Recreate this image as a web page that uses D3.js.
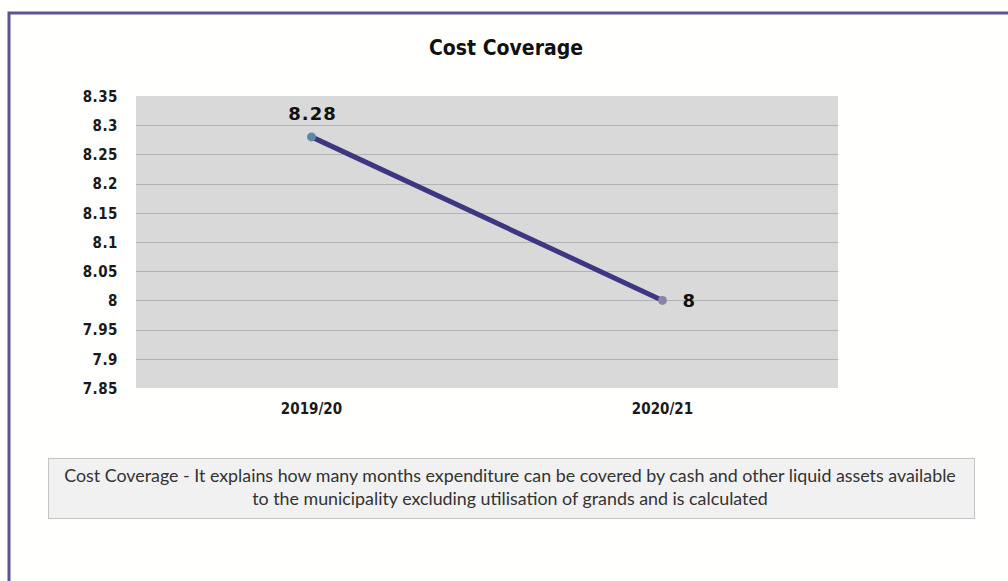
<!DOCTYPE html>
<html>
<head>
<meta charset="utf-8">
<script src="https://cdn.jsdelivr.net/npm/d3@7"></script>
<style>
  body { margin: 0; background: #fff; }
  svg { display: block; }
</style>
</head>
<body>
<svg width="1008" height="581"></svg>
<script>
// Data
let categories = ["2019/20", "2020/21"];
let values = [8.28, 8];
let valueLabels = ["8.28", "8"];
let yTicks = [7.85, 7.9, 7.95, 8, 8.05, 8.1, 8.15, 8.2, 8.25, 8.3, 8.35];
let title = "Cost Coverage";
let noteLines = [
  "Cost Coverage - It explains how many months expenditure can be covered by cash and other liquid assets available",
  "to the municipality excluding utilisation of grands and is calculated"
];

// Set up dimensions
let svg = d3.select("svg");
let width = +svg.attr("width");
let height = +svg.attr("height");
let plot = { left: 136, right: 838, top: 96, bottom: 388 };

// Outer frame (right and bottom edges run off the page)
svg.append("rect")
  .attr("x", 9).attr("y", 13)
  .attr("width", 1200).attr("height", 800)
  .attr("fill", "#fffffd")
  .attr("stroke", "#5b5592")
  .attr("stroke-width", 3);

// Title
svg.append("text")
  .attr("x", 506).attr("y", 55)
  .attr("text-anchor", "middle")
  .style("font-family", "'DejaVu Sans Condensed', 'DejaVu Sans', sans-serif")
  .style("font-weight", "bold")
  .style("font-size", "21px")
  .attr("fill", "#111")
  .text(title);

// Scales
let x = d3.scaleBand()
  .domain(categories)
  .range([plot.left, plot.right]);

let y = d3.scaleLinear()
  .domain([7.85, 8.35])
  .range([plot.bottom, plot.top]);

// Plot background
svg.append("rect")
  .attr("x", plot.left).attr("y", plot.top)
  .attr("width", plot.right - plot.left)
  .attr("height", plot.bottom - plot.top)
  .attr("fill", "#d9d9d9");

// Gridlines
svg.append("g")
  .selectAll("line")
  .data(yTicks.slice(1, -1))
  .enter().append("line")
    .attr("x1", plot.left).attr("x2", plot.right)
    .attr("y1", d => Math.round(y(d)) + 0.5)
    .attr("y2", d => Math.round(y(d)) + 0.5)
    .attr("stroke", "#b3b3b3")
    .attr("stroke-width", 1);

// Y axis
let yAxis = svg.append("g")
  .attr("transform", `translate(${plot.left - 15},0)`)
  .call(d3.axisLeft(y).tickValues(yTicks).tickSize(0).tickFormat(d => String(+d.toFixed(2))));
yAxis.select(".domain").remove();
yAxis.selectAll("text")
  .style("font-family", "'DejaVu Sans Condensed', 'DejaVu Sans', sans-serif")
  .style("font-weight", "bold")
  .style("font-size", "15px")
  .style("letter-spacing", "0.5px")
  .attr("fill", "#1a1a1a")
  .attr("dy", "0.35em");

// X axis
let xAxis = svg.append("g")
  .attr("transform", `translate(0,${plot.bottom + 12})`)
  .call(d3.axisBottom(x).tickSize(0));
xAxis.select(".domain").remove();
xAxis.selectAll("text")
  .style("font-family", "'DejaVu Sans Condensed', 'DejaVu Sans', sans-serif")
  .style("font-weight", "bold")
  .style("font-size", "15px")
  .attr("fill", "#1a1a1a");

// Line
let points = categories.map((c, i) => ({ cat: c, value: values[i], label: valueLabels[i] }));
let line = d3.line()
  .x(d => x(d.cat) + x.bandwidth() / 2)
  .y(d => y(d.value));

svg.append("path")
  .datum(points)
  .attr("d", line)
  .attr("fill", "none")
  .attr("stroke", "#3d3782")
  .attr("stroke-width", 5)
  .attr("stroke-linecap", "round");

let markerFill = ["#5e88a4", "#8985a6"];
svg.selectAll(".dot")
  .data(points)
  .enter().append("circle")
    .attr("class", "dot")
    .attr("cx", d => x(d.cat) + x.bandwidth() / 2)
    .attr("cy", d => y(d.value))
    .attr("r", 4.5)
    .attr("fill", (d, i) => markerFill[i]);

// Data labels: first above, second to the right
svg.selectAll(".vlabel")
  .data(points)
  .enter().append("text")
    .attr("class", "vlabel")
    .attr("x", (d, i) => x(d.cat) + x.bandwidth() / 2 + (i === 0 ? 1 : 20))
    .attr("y", (d, i) => y(d.value) + (i === 0 ? -17 : 7))
    .attr("text-anchor", (d, i) => i === 0 ? "middle" : "start")
    .style("font-family", "'DejaVu Sans', sans-serif")
    .style("font-weight", "bold")
    .style("font-size", "18px")
    .style("letter-spacing", "1px")
    .attr("fill", "#111")
    .text(d => d.label);

// Note box
svg.append("rect")
  .attr("x", 48.5).attr("y", 458.5)
  .attr("width", 926).attr("height", 60)
  .attr("fill", "#f1f1f1")
  .attr("stroke", "#c4c4c4")
  .attr("stroke-width", 1);

let note = svg.append("g");
let noteText = note.selectAll("text")
  .data(noteLines)
  .enter().append("text")
    .attr("x", 510)
    .attr("y", (d, i) => 482 + i * 23)
    .attr("text-anchor", "middle")
    .style("font-family", "'Liberation Sans Narrow', 'Lato', 'Open Sans', sans-serif")
    .style("font-size", "20px")
    .attr("fill", "#333")
    .text(d => d);

// fit the first line to its width in the reference
let w0 = noteText.nodes()[0].getComputedTextLength();
let fs = 20 * 892 / w0;
noteText.style("font-size", Math.min(fs, 20) + "px");
</script>
</body>
</html>
